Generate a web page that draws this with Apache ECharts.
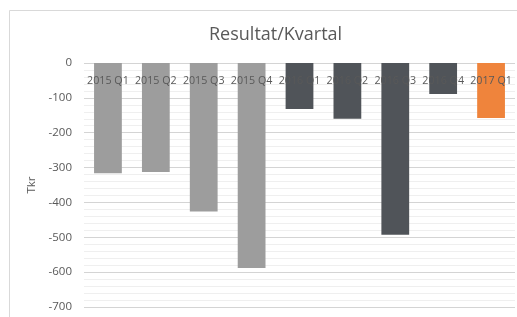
<!DOCTYPE html>
<html><head><meta charset="utf-8">
<script src="https://cdn.jsdelivr.net/npm/echarts@6/dist/echarts.min.js"></script>
<style>html,body{margin:0;padding:0;background:#fff}#c{width:517px;height:317px}</style>
</head><body><div id="c"></div>
<script>
const categories = ['2015 Q1','2015 Q2','2015 Q3','2015 Q4','2016 Q1','2016 Q2','2016 Q3','2016 Q4','2017 Q1'];
const values = [-316, -313, -426, -588, -132, -160, -493, -89, -158];
const barColors = ['#9d9d9d','#9d9d9d','#9d9d9d','#9d9d9d','#505459','#505459','#505459','#505459','#ef843c'];
const yTicks = { min: -700, max: 0, step: 100 };
const title = 'Resultat/Kvartal';
const yName = 'Tkr';

const chart = echarts.init(document.getElementById('c'), null, {renderer:'canvas'});
chart.setOption({
  animation:false,
  backgroundColor:'#fff',
  textStyle:{fontFamily:'Open Sans'},
  graphic:[{type:'rect', shape:{x:9.5,y:10.5,width:540,height:340}, style:{fill:'none', stroke:'#d9d9d9', lineWidth:1}, z:-1}],
  title:{text:title, left:204, top:21, textStyle:{fontSize:18, fontWeight:'normal', color:'#595959', fontFamily:'Open Sans'}},
  grid:{left:84, right:2, top:63, bottom:10},
  xAxis:{type:'category', data:categories, position:'top', z:10,
    axisLine:{show:false}, axisTick:{show:false},
    axisLabel:{color:'#595959', fontSize:10.7, margin:-23, interval:0, fontFamily:'Open Sans'}},
  yAxis:{type:'value', min:yTicks.min, max:yTicks.max, interval:yTicks.step,
    name:yName, nameLocation:'middle', nameGap:40, nameRotate:90,
    nameTextStyle:{color:'#595959', fontSize:11.5},
    axisLine:{show:false}, axisTick:{show:false},
    axisLabel:{color:'#595959', fontSize:11.5, margin:12},
    splitLine:{lineStyle:{color:'#d4d4d4', width:1}},
    minorTick:{show:false, splitNumber:5},
    minorSplitLine:{show:true, lineStyle:{color:'#efefef', width:1}}},
  series:[{type:'bar', data:values.map((v,i)=>({value:v, itemStyle:{color:barColors[i]}})), barWidth:'58%'}]
});
</script></body></html>
